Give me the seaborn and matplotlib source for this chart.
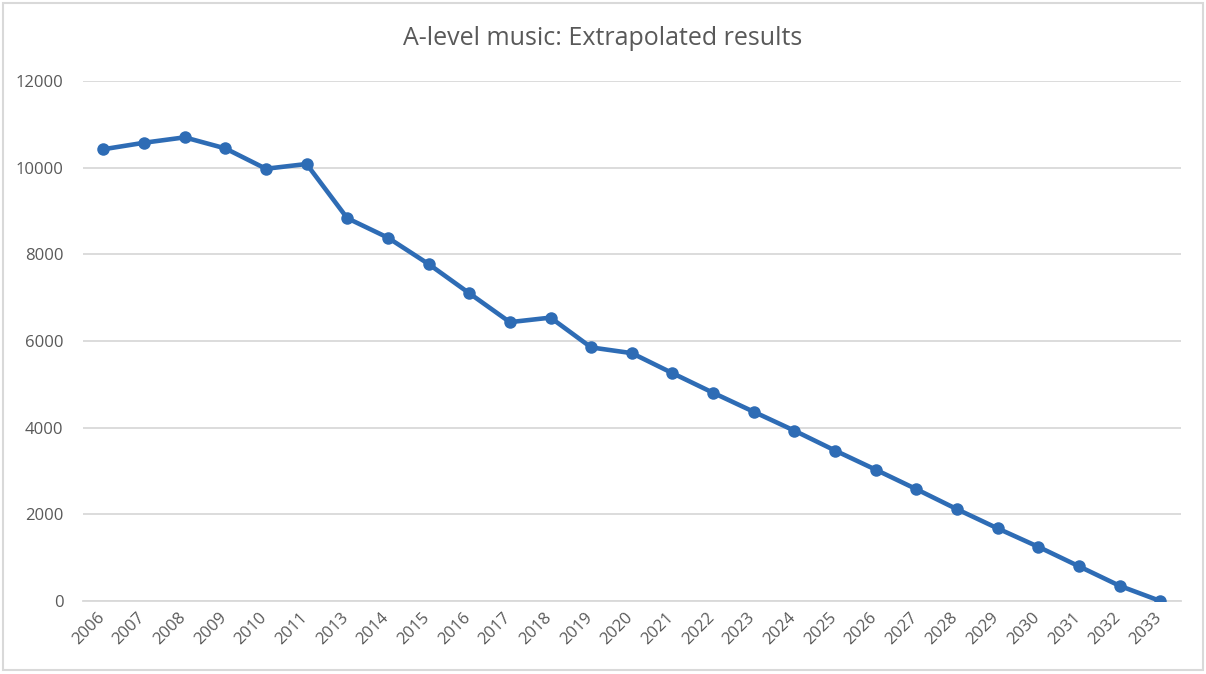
import matplotlib
matplotlib.use("Agg")
import matplotlib.pyplot as plt
import matplotlib.transforms as mtransforms
import seaborn as sns
import pandas as pd
from matplotlib.patches import Rectangle

years = ["2006", "2007", "2008", "2009", "2010", "2011", "2013", "2014", "2015",
         "2016", "2017", "2018", "2019", "2020", "2021", "2022", "2023", "2024",
         "2025", "2026", "2027", "2028", "2029", "2030", "2031", "2032", "2033"]
entries = [10425, 10575, 10700, 10445, 9975, 10085, 8835, 8385, 7777,
           7104, 6435, 6540, 5852, 5720, 5258, 4805, 4366, 3930,
           3472, 3030, 2580, 2118, 1675, 1250, 800, 350, 0]
yticks = [0, 2000, 4000, 6000, 8000, 10000, 12000]
title = "A-level music: Extrapolated results"

df = pd.DataFrame({"year": years, "entries": entries})

sns.set_theme(style="white")
plt.rcParams["font.family"] = ["Open Sans", "DejaVu Sans"]

fig = plt.figure(figsize=(12.06, 6.74), dpi=100)
ax = fig.add_axes([0.0688, 0.1083, 0.9102, 0.7715])

line_color = "#2E6CB5"
sns.lineplot(data=df, x="year", y="entries", ax=ax, color=line_color,
             linewidth=3.3, marker="o", markersize=9, markeredgewidth=0,
             sort=False, zorder=3)

ax.set_xlim(-0.5, len(years) - 0.5)
ax.set_ylim(0, 12000)
ax.set_yticks(yticks)
ax.set_yticklabels([str(v) for v in yticks])
ax.yaxis.grid(True, color="#d9d9d9", linewidth=1.3)
ax.xaxis.grid(False)
for s in ["left", "right", "top"]:
    ax.spines[s].set_visible(False)
ax.spines["bottom"].set_color("#d9d9d9")
ax.spines["bottom"].set_linewidth(1.3)
ax.set_xlabel("")
ax.set_ylabel("")
ax.tick_params(axis="y", length=0, pad=14, labelsize=12, labelcolor="#595959")
ax.tick_params(axis="x", length=0, pad=6, labelsize=12, labelcolor="#595959")
shift = mtransforms.ScaledTranslation(-7 / 100, 0, fig.dpi_scale_trans)
for lbl in ax.get_xticklabels():
    lbl.set_rotation(45)
    lbl.set_ha("right")
    lbl.set_va("top")
    lbl.set_rotation_mode("anchor")
    lbl.set_transform(lbl.get_transform() + shift)

fig.text(0.5, 0.943, title, ha="center", va="center", fontsize=18, color="#595959")

fig.patches.append(Rectangle((3 / 1206, 4 / 674), 1200 / 1206, 667 / 674,
                             transform=fig.transFigure, fill=False,
                             edgecolor="#d9d9d9", linewidth=1.5))

fig.savefig("out.png", dpi=100, facecolor="white")
